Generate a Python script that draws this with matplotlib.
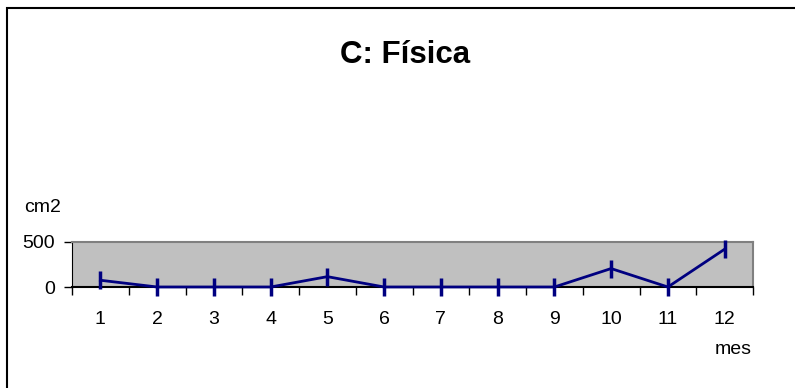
import matplotlib.pyplot as plt
from matplotlib.patches import Rectangle

plt.rcParams['font.family'] = ['Liberation Sans', 'DejaVu Sans']

# data
months = [1, 2, 3, 4, 5, 6, 7, 8, 9, 10, 11, 12]
area_cm2 = [75, 0, 0, 0, 115, 0, 0, 0, 0, 205, 0, 420]
month_labels = [str(m) for m in months]

W, H = 795, 388
fig = plt.figure(figsize=(W / 100, H / 100), dpi=100)

# outer chart border (cut off at right/bottom)
fig.patches.append(Rectangle((7 / W, -0.1), 1.2, (H - 8) / H + 0.1,
                             transform=fig.transFigure, fill=False,
                             edgecolor='black', linewidth=1.5))

ax = fig.add_axes([72 / W, (H - 287) / H, (753 - 72) / W, 45 / H])
ax.set_facecolor('#c0c0c0')

ax.plot(months, area_cm2, color='#000080', linewidth=2,
        marker='|', markersize=13, markeredgewidth=2.5, clip_on=False, zorder=3)

ax.set_xlim(0.5, 12.5)
ax.set_ylim(0, 500)
ax.set_yticks([0, 500])
ax.set_yticklabels(['0', '500'], fontsize=14)

# category ticks sit between months, labels centred on months
ax.set_xticks([m + 0.5 for m in range(0, 13)])
ax.set_xticklabels([])
ax.set_xticks(months, minor=True)
ax.set_xticklabels(month_labels, minor=True, fontsize=14)
ax.tick_params(axis='x', which='minor', length=0, pad=17)
ax.tick_params(axis='x', which='major', length=6, width=1, direction='out')
ax.tick_params(axis='y', length=6, width=1, direction='out', pad=6)

for side in ['top', 'right']:
    ax.spines[side].set_color('#808080')
    ax.spines[side].set_linewidth(1.5)
ax.spines['left'].set_color('black')
ax.spines['bottom'].set_color('black')
ax.spines['bottom'].set_linewidth(1.5)

fig.text(405 / W, 1 - 55 / H, 'C: Física', ha='center', va='center',
         fontsize=22.5, fontweight='bold')
fig.text(24 / W, 1 - 207 / H, 'cm2', ha='left', va='center', fontsize=14)
fig.text(752 / W, 1 - 349 / H, 'mes', ha='right', va='center', fontsize=14)

fig.savefig('out.png', dpi=100)
